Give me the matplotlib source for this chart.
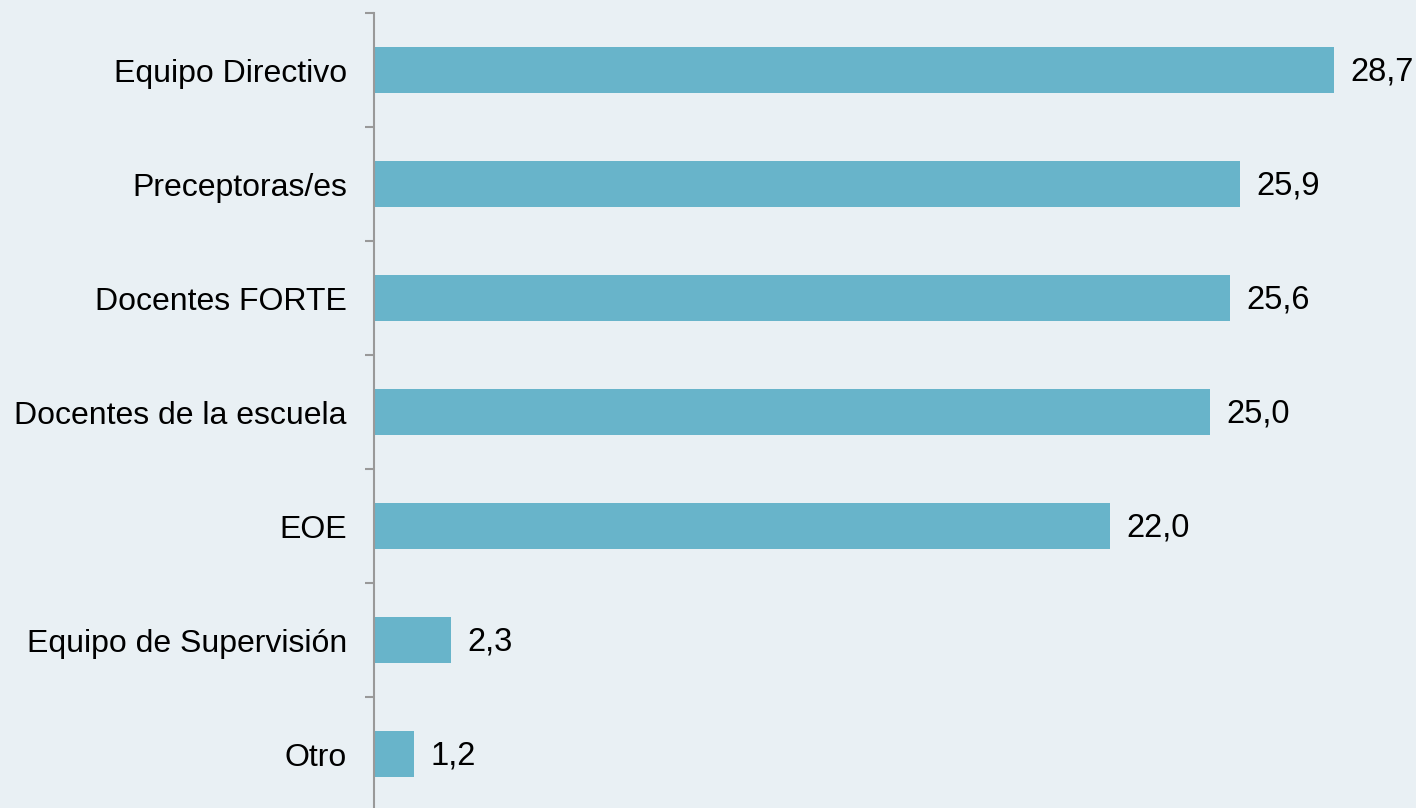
import matplotlib.pyplot as plt
import numpy as np

plt.rcParams['font.family'] = ['Liberation Sans', 'DejaVu Sans']

categorias = ['Equipo Directivo', 'Preceptoras/es', 'Docentes FORTE',
              'Docentes de la escuela', 'EOE', 'Equipo de Supervisión', 'Otro']
valores = [28.7, 25.9, 25.6, 25.0, 22.0, 2.3, 1.2]

fondo = '#E9F0F4'
color_barra = '#68B4CA'

fig = plt.figure(figsize=(14.16, 8.08), dpi=100, facecolor=fondo)
ax = fig.add_axes([374 / 1416, -3 / 808, 1042 / 1416, 798 / 808])
ax.set_facecolor(fondo)

y = np.arange(len(categorias))
ax.barh(y, valores, height=0.4, color=color_barra)

for yi, v in zip(y, valores):
    ax.annotate(f'{v:.1f}'.replace('.', ','), (v, yi), xytext=(11.5, -1.5),
                textcoords='offset points', va='center', ha='left',
                fontsize=23.5, color='black')

ax.set_xlim(0, 31.15)
ax.set_ylim(len(categorias) - 0.5, -0.5)

ax.set_yticks(y)
ax.set_yticklabels(categorias, fontsize=23)
ax.tick_params(axis='y', which='major', length=0, pad=19.5)
ax.set_yticks(np.arange(len(categorias) + 1) - 0.5, minor=True)
ax.tick_params(axis='y', which='minor', length=6.5, width=1.5, color='#999999')
ax.set_xticks([])

for lado in ['top', 'right', 'bottom']:
    ax.spines[lado].set_visible(False)
ax.spines['left'].set_color('#999999')
ax.spines['left'].set_linewidth(1.5)

fig.savefig('out.png', dpi=100, facecolor=fondo)
